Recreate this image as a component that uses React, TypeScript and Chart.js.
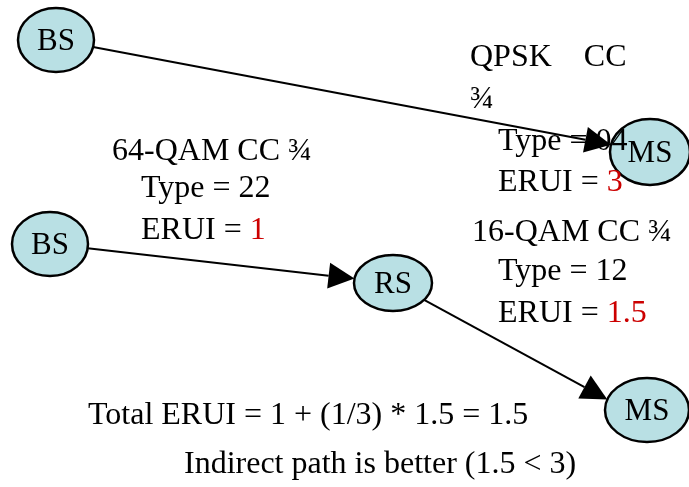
import React, { useEffect, useRef } from "react";
import { Chart, registerables } from "chart.js";
Chart.register(...registerables);

// Nodes
const nodeLabels = ["BS", "MS", "BS", "RS", "MS"];
const nodeX = [56, 650, 50, 393, 647];
const nodeY = [40, 152, 244, 283, 410];
// Edges (index pairs)
const edgeFrom = [0, 2, 3];
const edgeTo = [1, 3, 4];
// Annotation texts: black part, red part
const textBlack = [
  "QPSK    CC",
  "¾",
  "Type = 04",
  "ERUI = ",
  "64-QAM CC ¾",
  "Type = 22",
  "ERUI = ",
  "16-QAM CC ¾",
  "Type = 12",
  "ERUI = ",
  "Total ERUI = 1 + (1/3) * 1.5 = 1.5",
  "Indirect path is better (1.5 < 3)",
];
const textRed = ["", "", "", "3", "", "", "1", "", "", "1.5", "", ""];
const textX = [470, 470, 498, 498, 112, 141, 141, 472, 498, 498, 88, 184];
const textY = [58, 100, 142, 183, 152, 189, 231, 233, 272, 314, 416, 465];

const NODE_RX = [38, 40, 38, 39, 42];
const NODE_RY = [32, 33, 32, 28, 32];
const EDGE_AIM_DY = [0, 0, 11];
const FONT = "32px 'Liberation Serif', 'DejaVu Serif', serif";
const NODE_FONT = "31px 'Liberation Serif', 'DejaVu Serif', serif";

const diagramPlugin = {
  id: "diagram",
  afterDatasetsDraw(chart: any) {
    const ctx = chart.ctx;
    const xs = chart.scales.x;
    const ys = chart.scales.y;
    const px = (v: number) => xs.getPixelForValue(v);
    const py = (v: number) => ys.getPixelForValue(v);
    ctx.save();
    // nodes
    for (let i = 0; i < nodeLabels.length; i++) {
      const x = px(nodeX[i]);
      const y = py(nodeY[i]);
      ctx.beginPath();
      ctx.ellipse(x, y, NODE_RX[i], NODE_RY[i], 0, 0, Math.PI * 2);
      ctx.fillStyle = "#b9e0e4";
      ctx.fill();
      ctx.lineWidth = 2.5;
      ctx.strokeStyle = "#000";
      ctx.stroke();
      ctx.fillStyle = "#000";
      ctx.font = NODE_FONT;
      ctx.textAlign = "center";
      ctx.textBaseline = "middle";
      ctx.fillText(nodeLabels[i], x, y + 2);
    }
    // edges
    const boundary = (i: number, cx: number, cy: number, dx: number, dy: number) => {
      const rx = NODE_RX[i], ry = NODE_RY[i];
      const t = 1 / Math.sqrt((dx * dx) / (rx * rx) + (dy * dy) / (ry * ry));
      return [cx + dx * t, cy + dy * t];
    };
    for (let e = 0; e < edgeFrom.length; e++) {
      const a = edgeFrom[e];
      const b = edgeTo[e];
      const ax = px(nodeX[a]), ay = py(nodeY[a]);
      const bx = px(nodeX[b]), by = py(nodeY[b]);
      const aimY = by + EDGE_AIM_DY[e];
      const dx = bx - ax, dy = aimY - ay;
      const [sx, sy] = boundary(a, ax, ay, dx, dy);
      // find where the line from source to aim point enters the target ellipse
      const rx = NODE_RX[b], ry = NODE_RY[b];
      let lo = 0, hi = 1;
      for (let k = 0; k < 40; k++) {
        const m = (lo + hi) / 2;
        const qx = ax + dx * m - bx, qy = ay + dy * m - by;
        if ((qx * qx) / (rx * rx) + (qy * qy) / (ry * ry) > 1) lo = m;
        else hi = m;
      }
      const tx = ax + dx * lo, ty = ay + dy * lo;
      const len = Math.hypot(tx - sx, ty - sy);
      const ux = (tx - sx) / len, uy = (ty - sy) / len;
      const hl = 26, hw = 13;
      const bxp = tx - ux * hl, byp = ty - uy * hl;
      ctx.strokeStyle = "#000";
      ctx.lineWidth = 2;
      ctx.beginPath();
      ctx.moveTo(sx, sy);
      ctx.lineTo(bxp, byp);
      ctx.stroke();
      ctx.fillStyle = "#000";
      ctx.beginPath();
      ctx.moveTo(tx, ty);
      ctx.lineTo(bxp - uy * hw, byp + ux * hw);
      ctx.lineTo(bxp + uy * hw, byp - ux * hw);
      ctx.closePath();
      ctx.fill();
    }
    // texts
    ctx.font = FONT;
    ctx.textBaseline = "middle";
    ctx.textAlign = "left";
    for (let i = 0; i < textBlack.length; i++) {
      const x = px(textX[i]);
      const y = py(textY[i]);
      ctx.fillStyle = "#000";
      ctx.fillText(textBlack[i], x, y);
      if (textRed[i]) {
        const w = ctx.measureText(textBlack[i]).width;
        ctx.fillStyle = "#cc0000";
        ctx.fillText(textRed[i], x + w, y);
      }
    }
    ctx.restore();
  },
};

export default function App() {
  const ref = useRef<HTMLCanvasElement>(null);
  useEffect(() => {
    document.body.style.margin = "0";
    const chart = new Chart(ref.current!, {
      type: "scatter",
      data: {
        datasets: [
          {
            data: nodeX.map((x, i) => ({ x, y: nodeY[i] })),
            pointRadius: 0,
            pointHoverRadius: 0,
          },
        ],
      },
      options: {
        animation: false,
        responsive: false,
        layout: { padding: 0 },
        plugins: { legend: { display: false }, tooltip: { enabled: false } },
        scales: {
          x: { type: "linear", min: 0, max: 689, display: false },
          y: { type: "linear", min: 0, max: 487, reverse: true, display: false },
        },
      },
      plugins: [diagramPlugin],
    });
    return () => chart.destroy();
  }, []);
  return <canvas ref={ref} width={689} height={487} style={{ display: "block" }} />;
}
